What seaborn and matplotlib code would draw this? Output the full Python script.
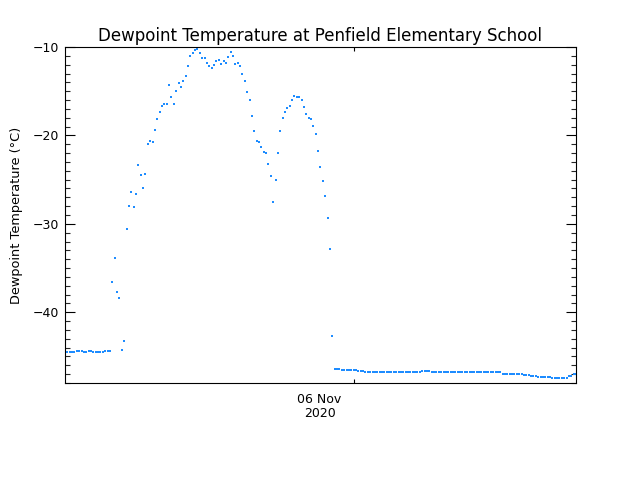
import matplotlib
matplotlib.use("Agg")
import matplotlib.dates as mdates
import matplotlib.pyplot as plt
import matplotlib.transforms as mtransforms
import numpy as np
import pandas as pd
import seaborn as sns

# 10-minute dewpoint readings (deg C)
start_time = "2020-11-05 03:40"
sample_step = "10min"
dewpoint = [
    -44.5, -44.5, -44.5, -44.5, -44.5, -44.4, -44.4, -44.4, -44.5, -44.5,
    -44.4, -44.4, -44.5, -44.5, -44.5, -44.5, -44.5, -44.4, -44.4, -44.4,
    -36.6, -33.9, -37.7, -38.4, -44.3, -43.3, -30.6, -28.0, -26.4, -28.1,
    -26.6, -23.4, -24.5, -26.0, -24.4, -21.0, -20.6, -20.8, -19.4, -18.1,
    -17.4, -16.7, -16.5, -16.5, -14.3, -15.6, -16.4, -15.0, -14.1, -14.5,
    -13.9, -13.3, -12.2, -11.0, -10.7, -10.3, -10.2, -10.7, -11.2, -11.3,
    -11.8, -12.1, -12.4, -12.0, -11.6, -11.5, -11.9, -11.6, -11.8, -11.1,
    -10.6, -11.0, -11.9, -11.8, -12.2, -13.0, -13.8, -15.1, -16.0, -17.8,
    -19.5, -20.6, -20.7, -21.3, -21.9, -22.0, -23.2, -24.6, -27.5, -25.0,
    -22.0, -19.5, -18.0, -17.4, -16.9, -16.7, -16.0, -15.5, -15.6, -15.7,
    -16.0, -16.8, -17.6, -18.0, -18.1, -18.9, -19.8, -21.8, -23.6, -25.1,
    -26.9, -29.3, -32.9, -42.7, -46.4, -46.4, -46.4, -46.5, -46.5, -46.5,
    -46.5, -46.5, -46.5, -46.5, -46.6, -46.6, -46.6, -46.75, -46.75, -46.75,
    -46.75, -46.7, -46.7, -46.7, -46.7, -46.7, -46.7, -46.7, -46.7, -46.7,
    -46.7, -46.7, -46.7, -46.7, -46.7, -46.7, -46.8, -46.8, -46.8, -46.8,
    -46.8, -46.65, -46.65, -46.65, -46.65, -46.8, -46.8, -46.8, -46.8, -46.8,
    -46.8, -46.8, -46.8, -46.8, -46.8, -46.8, -46.8, -46.8, -46.8, -46.8,
    -46.8, -46.8, -46.8, -46.8, -46.8, -46.8, -46.8, -46.8, -46.8, -46.8,
    -46.8, -46.8, -46.8, -46.8, -46.8, -46.95, -46.95, -46.95, -46.95, -46.95,
    -46.95, -46.95, -46.95, -46.95, -47.05, -47.05, -47.05, -47.2, -47.2, -47.2,
    -47.3, -47.3, -47.3, -47.3, -47.3, -47.3, -47.4, -47.4, -47.4, -47.4,
    -47.4, -47.4, -47.4, -47.25, -47.25, -46.95, -46.95,
]
y_limits = [-48, -10]
y_major_ticks = [-40, -30, -20, -10]
x_tick_date = "2020-11-06"
x_tick_label = "06 Nov\n2020"
title = "Dewpoint Temperature at Penfield Elementary School"
y_label = "Dewpoint Temperature (\u00b0C)"

times = pd.date_range(start_time, periods=len(dewpoint), freq=sample_step)
df = pd.DataFrame({"time": times, "dewpoint": dewpoint})

sns.set_style("ticks")
plt.rcParams["font.family"] = ["DejaVu Sans"]
plt.rcParams["axes.linewidth"] = 0.8
plt.rcParams["text.color"] = "black"
plt.rcParams["axes.labelcolor"] = "black"

fig = plt.figure(figsize=(6.4, 4.8), dpi=100)
ax = fig.add_axes([65 / 640, 1 - 383 / 480, 511 / 640, 336 / 480])

sns.scatterplot(data=df, x="time", y="dewpoint", ax=ax, marker="s", s=4.4,
                color="#1e8cff", linewidth=0, legend=False)

ax.set_xlim(times[0], times[-1])
ax.set_ylim(*y_limits)

ax.set_yticks(y_major_ticks)
ax.set_yticklabels([f"\u2212{abs(v)}" for v in y_major_ticks])
ax.yaxis.set_minor_locator(matplotlib.ticker.MultipleLocator(1))
ax.tick_params(axis="y", which="major", direction="in", length=7.5, width=0.8,
               left=True, right=True, labelsize=9, pad=4, colors="black")
ax.tick_params(axis="y", which="minor", direction="in", length=3.8, width=0.8,
               left=True, right=True)

ax.set_xticks([mdates.date2num(pd.Timestamp(x_tick_date))])
ax.set_xticklabels([x_tick_label], linespacing=1.1)
ax.tick_params(axis="x", which="major", direction="in", length=3, width=0.8,
               bottom=True, top=True, labelsize=9, pad=7, colors="black")
shift = mtransforms.ScaledTranslation(-34 / 100, 0, fig.dpi_scale_trans)
for lbl in ax.get_xticklabels():
    lbl.set_transform(lbl.get_transform() + shift)

for spine in ax.spines.values():
    spine.set_visible(True)
    spine.set_color("black")

ax.set_xlabel("")
ax.set_ylabel(y_label, fontsize=9.3, color="black")
ax.yaxis.set_label_coords(-42 / 511, 0.5)
ax.set_title(title, fontsize=12, pad=4.5, color="black")

fig.savefig("out.png", dpi=100, facecolor="white")
